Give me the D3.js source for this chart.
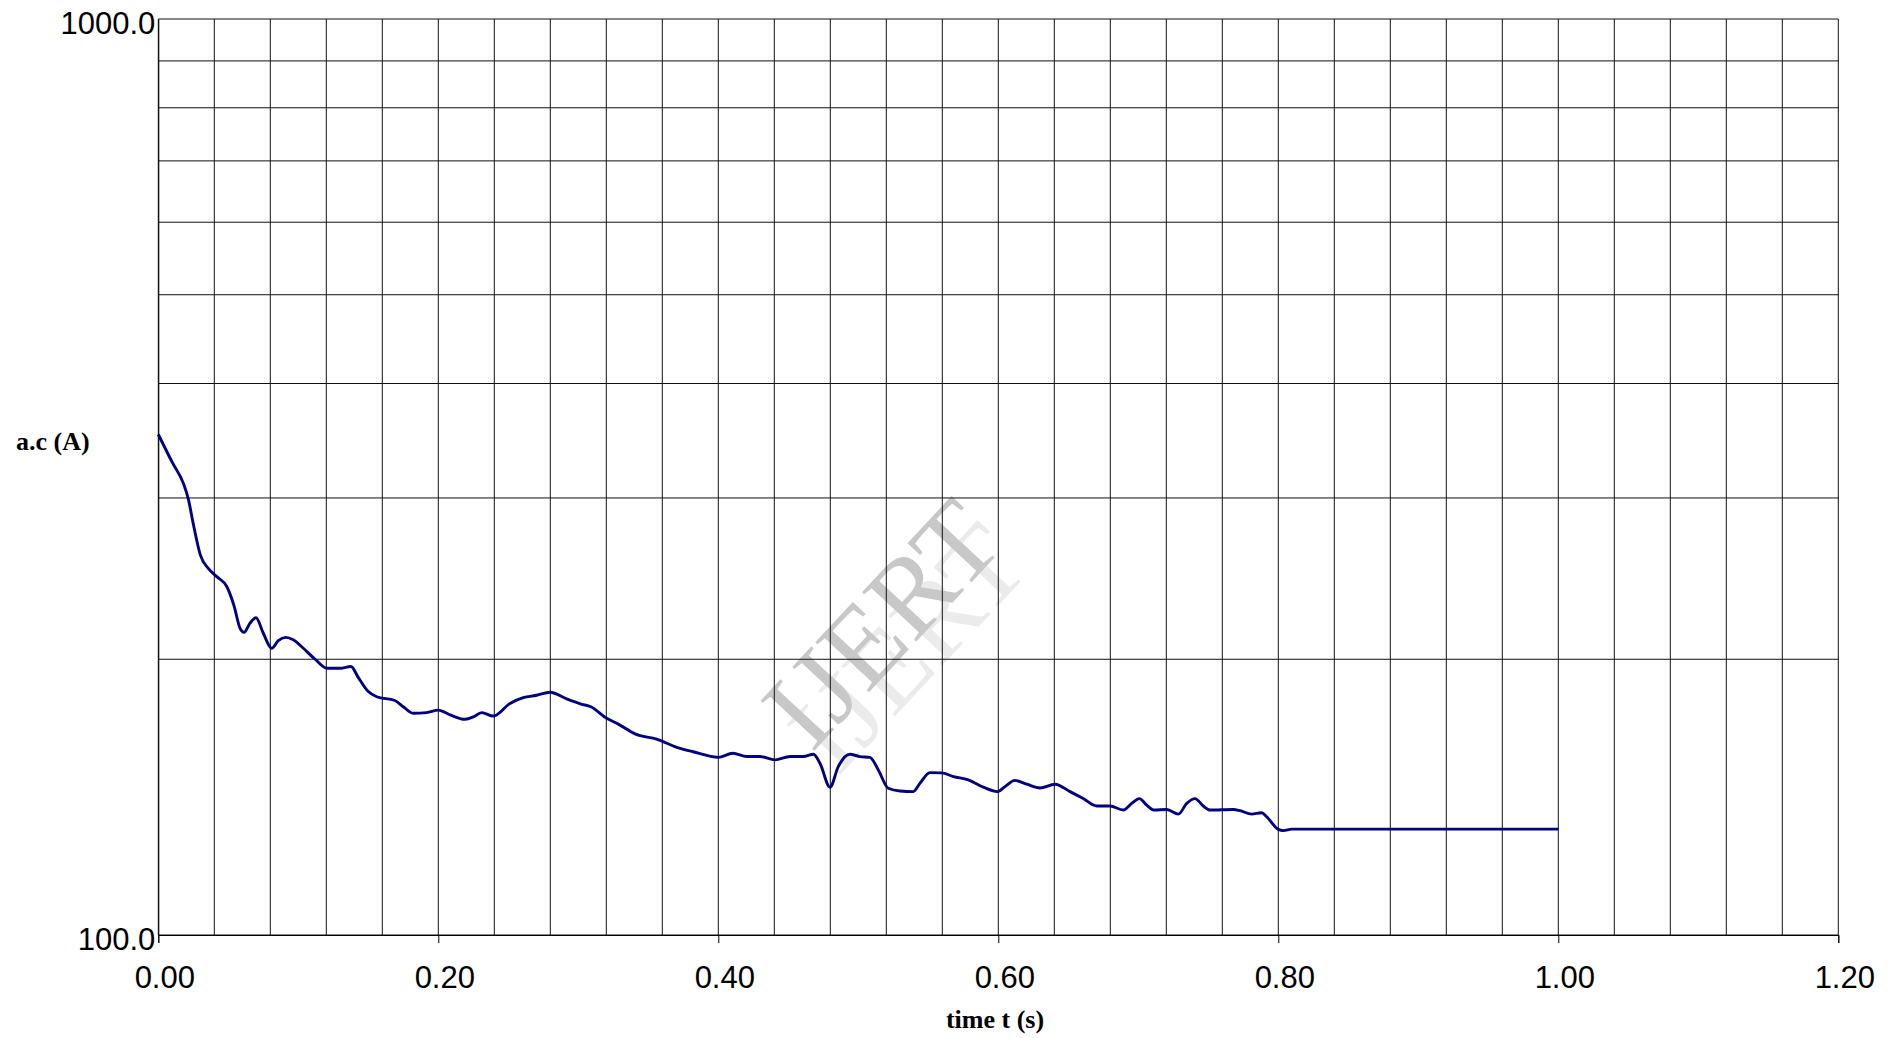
<!DOCTYPE html>
<html>
<head>
<meta charset="utf-8">
<script src="https://cdn.jsdelivr.net/npm/d3@7"></script>
<style>
  html, body { margin: 0; padding: 0; background: #fff; }
  svg { display: block; }
</style>
</head>
<body>
<svg id="chart" width="1898" height="1038"></svg>
<script>
// ---- data ----
const timeValues = [0, 0.01, 0.018, 0.0215, 0.025, 0.03, 0.036, 0.042, 0.049, 0.054, 0.0585, 0.0612, 0.0655, 0.0698, 0.075, 0.081, 0.0857, 0.091, 0.0964, 0.1036, 0.112, 0.1205, 0.13, 0.1376, 0.1429, 0.15, 0.156, 0.169, 0.175, 0.182, 0.1917, 0.2, 0.2084, 0.219, 0.225, 0.231, 0.2393, 0.2512, 0.2607, 0.2703, 0.2798, 0.2917, 0.302, 0.309, 0.3203, 0.3286, 0.3405, 0.356, 0.3703, 0.382, 0.40, 0.4103, 0.4203, 0.4298, 0.4405, 0.4512, 0.4607, 0.4679, 0.4726, 0.4798, 0.4857, 0.494, 0.5012, 0.5083, 0.5143, 0.5214, 0.5298, 0.5393, 0.544, 0.5512, 0.5596, 0.568, 0.5786, 0.5893, 0.5994, 0.6048, 0.6119, 0.6203, 0.6298, 0.6405, 0.6512, 0.6607, 0.6703, 0.6798, 0.6893, 0.6953, 0.7007, 0.706, 0.7112, 0.7203, 0.7286, 0.7346, 0.7405, 0.7464, 0.7512, 0.7679, 0.7726, 0.781, 0.7881, 0.7917, 0.80, 0.8036, 0.8096, 1.0];
const currentValues = [352, 328, 311, 299, 281, 260, 251, 246, 240, 229, 216, 214, 219, 222, 213.5, 205.6, 209.6, 211.3, 210, 205.6, 200, 195.5, 195.5, 196.4, 191, 184.4, 182, 180.3, 177.5, 174.6, 174.9, 176, 173.9, 172, 173, 174.9, 173.4, 179, 181.6, 182.7, 184.1, 181, 178.7, 177.5, 172.4, 169.9, 165.8, 163.6, 160.3, 158.5, 156.3, 157.9, 156.6, 156.6, 155.3, 156.6, 156.6, 157.5, 154, 145, 152.7, 157.5, 156.6, 156.3, 151.4, 144.6, 143.6, 143.4, 146.4, 150.4, 150.3, 148.9, 147.7, 145, 143.4, 145.2, 147.5, 146.1, 144.7, 146.1, 143.4, 140.9, 138.3, 138.3, 136.9, 139.2, 140.9, 138.6, 136.9, 137.1, 135.5, 139.2, 140.9, 138.3, 136.9, 137.1, 136.7, 135.5, 136.0, 134.6, 130.4, 130.0, 130.5, 130.5];
const xTickValues = [0, 0.2, 0.4, 0.6, 0.8, 1.0, 1.2];
const xTickLabels = ["0.00", "0.20", "0.40", "0.60", "0.80", "1.00", "1.20"];
const xGridValues = d3.range(0, 31).map(i => +(i * 0.04).toFixed(2));
const yTickValues = [100, 1000];
const yTickLabels = ["100.0", "1000.0"];
const yGridValues = [100, 200, 300, 400, 500, 600, 700, 800, 900, 1000];
const xAxisTitle = "time t (s)";
const yAxisTitle = "a.c (A)";
const watermarkText = "IJERT";

// ---- layout ----
const plotLeft = 158.3, plotRight = 1838.3, plotTop = 19, plotBottom = 935;
const svg = d3.select("#chart");

const x = d3.scaleLinear().domain([0, 1.2]).range([plotLeft, plotRight]);
const y = d3.scaleLog().domain([100, 1000]).range([plotBottom, plotTop]);

// watermark (behind grid)
const wmX = 882, wmY = 624;
const wm = svg.append("g").attr("font-family", "'Liberation Serif', 'DejaVu Serif', serif")
  .attr("font-size", 112).attr("text-anchor", "middle");
wm.append("text")
  .attr("transform", `translate(${wmX + 26},${wmY + 24}) rotate(-47)`)
  .attr("dy", "0.33em").attr("fill", "#ebebeb").text(watermarkText);
wm.append("text")
  .attr("transform", `translate(${wmX},${wmY}) rotate(-47)`)
  .attr("dy", "0.33em").attr("fill", "#c8c8c8").text(watermarkText);

// grid
const grid = svg.append("g").attr("stroke", "#111").attr("stroke-width", 1);
grid.selectAll("line.v").data(xGridValues).join("line")
  .attr("class", "v")
  .attr("x1", d => x(d)).attr("x2", d => x(d))
  .attr("y1", plotTop).attr("y2", plotBottom);
grid.selectAll("line.h").data(yGridValues).join("line")
  .attr("class", "h")
  .attr("x1", plotLeft).attr("x2", plotRight)
  .attr("y1", d => y(d)).attr("y2", d => y(d));

// x axis ticks (below axis)
const xAxis = d3.axisBottom(x).tickValues(xTickValues)
  .tickFormat((d, i) => xTickLabels[i]).tickSize(8).tickPadding(20);
const gx = svg.append("g").attr("transform", `translate(0,${plotBottom})`).call(xAxis);
gx.select(".domain").attr("stroke", "#000");
gx.selectAll(".tick line").attr("stroke", "#000");
gx.selectAll(".tick text")
  .attr("font-family", "'Liberation Sans', Arial, sans-serif")
  .attr("font-size", 31).attr("fill", "#000")
  .attr("dx", 6).attr("y", 53).attr("dy", 0);

// y axis labels
const yAxis = d3.axisLeft(y).tickValues(yTickValues)
  .tickFormat(d => yTickLabels[yTickValues.indexOf(d)]).tickSize(0).tickPadding(3);
const gy = svg.append("g").attr("transform", `translate(${plotLeft},0)`).call(yAxis);
gy.select(".domain").attr("stroke", "#000");
gy.selectAll(".tick text")
  .attr("font-family", "'Liberation Sans', Arial, sans-serif")
  .attr("font-size", 31).attr("fill", "#000")
  .attr("dy", 14.5);

// axis titles
svg.append("text")
  .attr("x", 995).attr("y", 1028).attr("text-anchor", "middle")
  .attr("font-family", "'Liberation Serif', 'Times New Roman', serif")
  .attr("font-weight", "bold").attr("font-size", 26).attr("fill", "#000")
  .text(xAxisTitle);
svg.append("text")
  .attr("x", 16).attr("y", 450)
  .attr("font-family", "'Liberation Serif', 'Times New Roman', serif")
  .attr("font-weight", "bold").attr("font-size", 26).attr("fill", "#000")
  .text(yAxisTitle);

// curve
const data = timeValues.map((t, i) => ({ t, v: currentValues[i] }));
const line = d3.line().x(d => x(d.t)).y(d => y(d.v)).curve(d3.curveMonotoneX);
svg.append("path").datum(data)
  .attr("fill", "none").attr("stroke", "#000080").attr("stroke-width", 2.9)
  .attr("stroke-linejoin", "round")
  .attr("d", line);
</script>
</body>
</html>
